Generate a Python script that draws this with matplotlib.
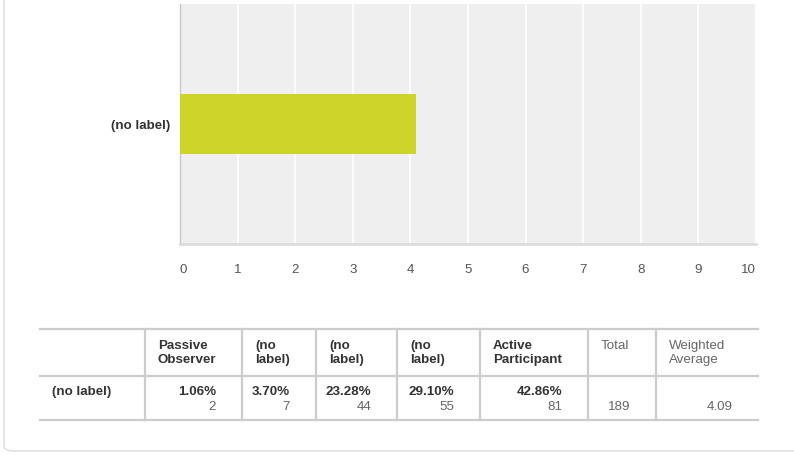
import matplotlib.pyplot as plt
from matplotlib.lines import Line2D
from matplotlib.patches import FancyBboxPatch

plt.rcParams['font.family'] = ['Liberation Sans', 'DejaVu Sans']

# data
row_label = "(no label)"
columns = ["Passive\nObserver", "(no\nlabel)", "(no\nlabel)", "(no\nlabel)", "Active\nParticipant"]
percents = ["1.06%", "3.70%", "23.28%", "29.10%", "42.86%"]
counts = [2, 7, 44, 55, 81]
total = 189
weighted_avg = 4.09

W, H = 794, 456
fig = plt.figure(figsize=(W / 100, H / 100), dpi=100)


def fx(x):
    return x / W


def fy(y):
    return 1 - y / H


# card outline
card = FancyBboxPatch((fx(4), fy(452)), fx(830), fy(-20) - fy(452) + 1,
                      boxstyle="round,pad=0,rounding_size=0.012",
                      transform=fig.transFigure, fill=False,
                      edgecolor="#e2e2e2", linewidth=1.2)
fig.add_artist(card)

ax = fig.add_axes([fx(180), fy(245), fx(756) - fx(180), fy(5) - fy(245)])
ax.set_facecolor("#efefef")
ax.barh([0], [weighted_avg], height=0.25, color="#cfd42a", zorder=3)
ax.set_xlim(0, 10)
ax.set_ylim(-0.5, 0.5)
ax.set_xticks(range(0, 11))
ax.set_yticks([0])
ax.set_yticklabels([row_label], fontweight="bold", fontsize=9.6, color="#333333")
ax.tick_params(axis="x", length=0, pad=14, labelsize=9.6, labelcolor="#555555")
ax.tick_params(axis="y", length=0, pad=7)
xl = ax.get_xticklabels()
xl[0].set_ha("left")
xl[-1].set_ha("right")
ax.grid(axis="x", color="white", linewidth=1.2, zorder=1)
for s in ["top", "right"]:
    ax.spines[s].set_visible(False)
ax.spines["left"].set_color("#c8c8c8")
ax.spines["left"].set_linewidth(1)
ax.spines["bottom"].set_color("#dddddd")
ax.spines["bottom"].set_linewidth(2)

# table
col_edges = [40, 145, 242, 316, 397, 480, 588, 656, 758]
for y in [330, 377, 421]:
    fig.add_artist(Line2D([fx(40), fx(758)], [fy(y), fy(y)], transform=fig.transFigure,
                          color="#cccccc", linewidth=1.6))
for x in col_edges[1:-1]:
    fig.add_artist(Line2D([fx(x), fx(x)], [fy(330), fy(421)], transform=fig.transFigure,
                          color="#cccccc", linewidth=1.6))

hdr_y = 353
for i, name in enumerate(columns):
    fig.text(fx(col_edges[i + 1] + 13), fy(hdr_y), name, fontsize=9.6, fontweight="bold",
             color="#333333", va="center", ha="left", linespacing=1.25)
fig.text(fx(col_edges[6] + 13), fy(346), "Total", fontsize=9.6, color="#666666",
         va="center", ha="left")
fig.text(fx(col_edges[7] + 13), fy(353), "Weighted\nAverage", fontsize=9.6, color="#666666",
         va="center", ha="left", linespacing=1.25)

fig.text(fx(52), fy(392), row_label, fontsize=9.6, fontweight="bold", color="#333333",
         va="center", ha="left")
for i, (p, c) in enumerate(zip(percents, counts)):
    xr = col_edges[i + 2] - 26
    fig.text(fx(xr), fy(392), p, fontsize=9.6, fontweight="bold", color="#333333",
             va="center", ha="right")
    fig.text(fx(xr), fy(407), str(c), fontsize=9.6, color="#666666",
             va="center", ha="right")
fig.text(fx(col_edges[7] - 26), fy(407), str(total), fontsize=9.6, color="#666666",
         va="center", ha="right")
fig.text(fx(col_edges[8] - 25), fy(407), f"{weighted_avg:.2f}", fontsize=9.6, color="#666666",
         va="center", ha="right")

fig.savefig("out.png", dpi=100)
